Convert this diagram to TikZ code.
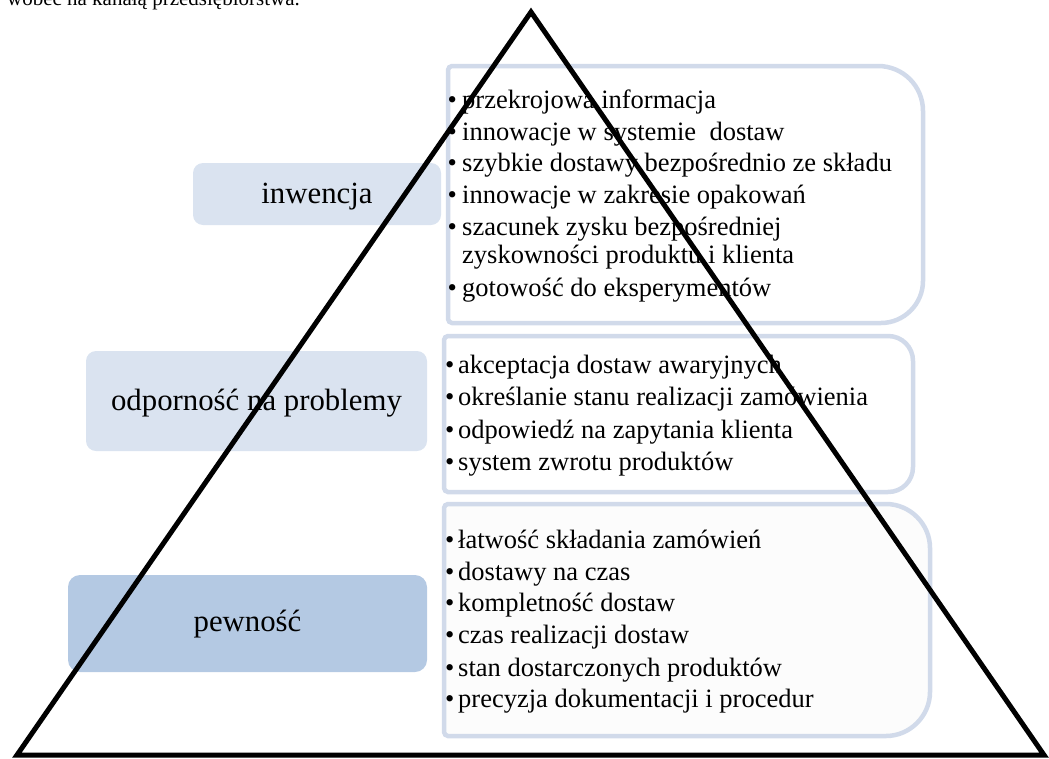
\documentclass[tikz,border=0pt]{standalone}
\usepackage{fontspec}
\setmainfont{Liberation Serif}
\definecolor{lightfill}{HTML}{DAE3F0}
\definecolor{darkfill}{HTML}{B4C9E3}
\definecolor{bordercol}{HTML}{D1DAEA}
\definecolor{faintfill}{HTML}{FCFCFC}
\tikzset{
  lab/.style={font=\fontsize{30.8}{36}\selectfont, inner sep=0pt, anchor=base},
  item/.style={font=\fontsize{26.5}{32}\selectfont, inner sep=0pt, anchor=base west},
  bul/.style={font=\fontsize{26.5}{32}\selectfont, inner sep=0pt, anchor=base west},
  lbox/.style={fill=lightfill, rounded corners=10pt, inner sep=0pt},
  dbox/.style={fill=darkfill, rounded corners=12pt, inner sep=0pt},
  rbox/.style={draw=bordercol, line width=4.5pt},
  tri/.style={draw=black, line width=5pt, line join=miter}
}
\begin{document}
\begin{tikzpicture}[x=1pt,y=-1pt]
\useasboundingbox (0,0) rectangle (1049,758);
\begin{scope}
\clip (0,0) rectangle (1049,758);
\node[font=\fontsize{21}{25}\selectfont, inner sep=0pt, anchor=base east] (cut) at (300,5.5) {wobec na kanałą przedsiębiorstwa.};
\end{scope}

% left label boxes
\node[lbox, minimum width=248pt, minimum height=62pt] (inwbox) at (317,194) {};
\node[lbox, minimum width=341pt, minimum height=100pt] (odpbox) at (256.5,401) {};
\node[dbox, minimum width=359pt, minimum height=97pt] (pewbox) at (247.5,623.5) {};
\node[lab] (inw) at (317,203) {inwencja};
\node[lab] (odp) at (256.5,410) {odporność na problemy};
\node[lab] (pew) at (247.5,631.5) {pewność};

% right boxes (rounded on the right side)
\draw[rbox, fill=white]
  (452,66) -- (878,66) .. controls (903,66) and (923,86) .. (923,111)
  -- (923,281) .. controls (923,304) and (904,323) .. (881,323)
  -- (452,323) .. controls (450,323) and (448,321) .. (448,319)
  -- (448,70) .. controls (448,68) and (450,66) .. (452,66) -- cycle;
\draw[rbox, fill=white]
  (448,336) -- (888,336) .. controls (902,336) and (913,347) .. (913,361)
  -- (913,467) .. controls (913,481) and (902,492) .. (888,492)
  -- (448,492) .. controls (446,492) and (444,490) .. (444,488)
  -- (444,340) .. controls (444,338) and (446,336) .. (448,336) -- cycle;
\draw[rbox, fill=faintfill]
  (448,504) -- (886,504) .. controls (910,504) and (930,524) .. (930,548)
  -- (930,692) .. controls (930,716) and (910,736) .. (886,736)
  -- (448,736) .. controls (446,736) and (444,734) .. (444,732)
  -- (444,508) .. controls (444,506) and (446,504) .. (448,504) -- cycle;

% top list
\node[bul] (b1) at (447.5,108) {•};
\node[item] (t1) at (462,108) {przekrojowa informacja};
\node[bul] (b2) at (447.5,140) {•};
\node[item] (t2) at (462,140) {innowacje w systemie~ dostaw};
\node[bul] (b3) at (447.5,171.5) {•};
\node[item] (t3) at (462,171.5) {szybkie dostawy bezpośrednio ze składu};
\node[bul] (b4) at (447.5,203) {•};
\node[item] (t4) at (462,203) {innowacje w zakresie opakowań};
\node[bul] (b5) at (447.5,235) {•};
\node[item] (t5) at (462,235) {szacunek zysku bezpośredniej};
\node[item] (t5b) at (462,263.5) {zyskowności produktu i klienta};
\node[bul] (b6) at (447.5,296) {•};
\node[item] (t6) at (462,296) {gotowość do eksperymentów};

% middle list
\node[bul] (m1b) at (445,373) {•};
\node[item] (m1) at (458,373) {akceptacja dostaw awaryjnych};
\node[bul] (m2b) at (445,405.5) {•};
\node[item] (m2) at (458,405.5) {określanie stanu realizacji zamówienia};
\node[bul] (m3b) at (445,438) {•};
\node[item] (m3) at (458,438) {odpowiedź na zapytania klienta};
\node[bul] (m4b) at (445,470) {•};
\node[item] (m4) at (458,470) {system zwrotu produktów};

% bottom list
\node[bul] (p1b) at (445,548.3) {•};
\node[item] (p1) at (458,548.3) {łatwość składania zamówień};
\node[bul] (p2b) at (445,580) {•};
\node[item] (p2) at (458,580) {dostawy na czas};
\node[bul] (p3b) at (445,611.7) {•};
\node[item] (p3) at (458,611.7) {kompletność dostaw};
\node[bul] (p4b) at (445,643.3) {•};
\node[item] (p4) at (458,643.3) {czas realizacji dostaw};
\node[bul] (p5b) at (445,676) {•};
\node[item] (p5) at (458,676) {stan dostarczonych produktów};
\node[bul] (p6b) at (445,707.7) {•};
\node[item] (p6) at (458,707.7) {precyzja dokumentacji i procedur};

% pyramid outline
\coordinate (apex) at (531,12);
\coordinate (bl) at (17,755);
\coordinate (br) at (1044,755);
\draw[tri] (apex) -- (bl) -- (br) -- cycle;
\end{tikzpicture}
\end{document}
